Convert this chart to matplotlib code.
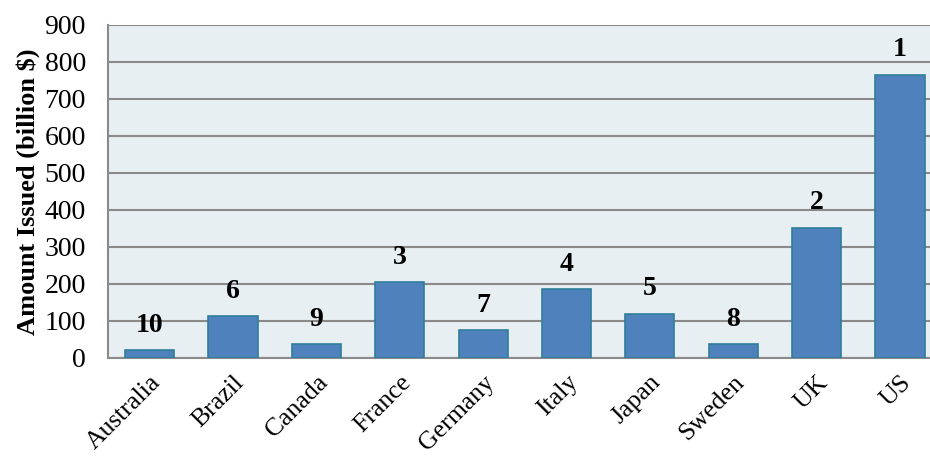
import matplotlib.pyplot as plt
import numpy as np

# amount of green bonds issued per country, with rank
countries = ['Australia', 'Brazil', 'Canada', 'France', 'Germany',
             'Italy', 'Japan', 'Sweden', 'UK', 'US']
amounts = [19, 112, 36, 204, 74, 185, 118, 36, 351, 765]
ranks = ['10', '6', '9', '3', '7', '4', '5', '8', '2', '1']

plt.rcParams['font.family'] = ['Liberation Serif', 'DejaVu Serif']

fig = plt.figure(figsize=(9.3, 4.57), dpi=100)
ax = fig.add_axes([0.1161, 0.2177, 0.8839, 0.7276])
ax.set_facecolor('#e8eff3')

x = np.arange(len(countries))
ax.bar(x, amounts, width=0.59, color='#4f81bd', edgecolor='#2f7f9a',
       linewidth=1.2, zorder=3)

for xi, v, r in zip(x, amounts, ranks):
    ax.annotate(r, (xi, v), xytext=(0, 18), textcoords='offset points',
                ha='center', va='center', fontsize=20, fontweight='bold')

ax.set_ylim(0, 900)
ax.set_yticks(range(0, 901, 100))
ax.set_xlim(-0.5, 9.36)
ax.yaxis.grid(True, color='#8a8a8a', linewidth=1.5, zorder=1)
ax.set_axisbelow(True)

ax.set_xticks(x)
ax.set_xticklabels(countries, rotation=45, ha='right', rotation_mode='anchor')
ax.tick_params(axis='y', length=0, pad=16, labelsize=20)
ax.tick_params(axis='x', length=0, pad=10, labelsize=18.5)

for s in ['top', 'right']:
    ax.spines[s].set_visible(False)
for s in ['left', 'bottom']:
    ax.spines[s].set_color('#8a8a8a')
    ax.spines[s].set_linewidth(1.5)

ax.set_ylabel('Amount Issued (billion $)', fontsize=19, fontweight='bold',
              labelpad=3)

fig.savefig('out.png', dpi=100)
